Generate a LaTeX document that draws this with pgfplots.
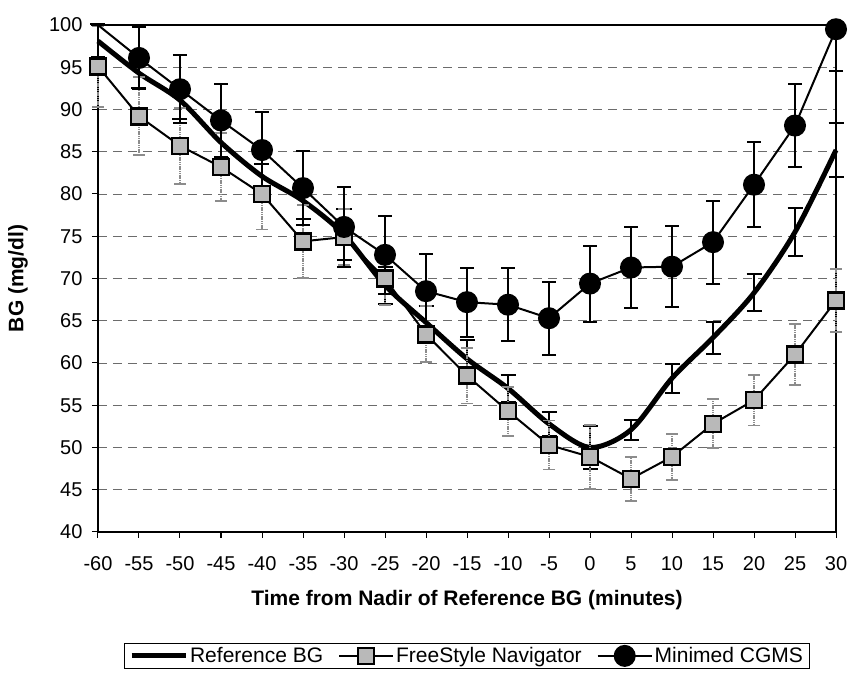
\documentclass[border=0pt]{standalone}
\usepackage{fontspec}
\setmainfont{Liberation Sans}
\usepackage{pgfplots}
\pgfplotsset{compat=1.18}
\usepackage{pgfplotstable}

% time, reference BG, FreeStyle Navigator, Minimed CGMS (mean and error)
\pgfplotstableread{
x    ref   referr fs    fserr mm    mmlo mmhi
-60  98.1  2.0    95.1  4.8   100.0 3.8  0.0
-55  94.3  1.7    89.2  4.6   96.1  3.7  3.7
-50  91.1  2.2    85.7  4.5   92.4  4.0  4.0
-45  86.1  1.8    83.2  4.0   88.7  4.3  4.3
-40  82.1  1.4    80.0  4.2   85.2  4.5  4.5
-35  79.2  2.2    74.4  4.3   80.7  4.4  4.4
-30  75.2  3.0    74.9  3.3   76.1  4.7  4.7
-25  69.2  2.2    70.0  3.1   72.8  4.6  4.6
-20  64.8  2.0    63.4  3.3   68.5  4.4  4.4
-15  60.5  2.2    58.5  3.3   67.2  4.1  4.1
-10  57.0  1.6    54.3  2.9   66.9  4.3  4.3
-5   52.8  1.4    50.3  2.9   65.3  4.3  4.3
0    50.0  2.6    48.9  3.8   69.4  4.5  4.5
5    52.1  1.2    46.3  2.6   71.3  4.8  4.8
10   58.2  1.7    48.9  2.7   71.4  4.8  4.8
15   63.0  1.9    52.8  2.9   74.3  4.9  4.9
20   68.3  2.2    55.6  3.0   81.1  5.0  5.0
25   75.5  2.8    61.0  3.6   88.1  4.9  4.9
30   85.2  3.2    67.4  3.7   99.5  5.0  0.5
}\data

\definecolor{sqfill}{RGB}{185,185,185}
\definecolor{fserr}{RGB}{140,140,140}

\begin{document}
\begin{tikzpicture}
\begin{axis}[
  name=ax, at={(0,0)}, anchor=south west,
  scale only axis, width=738pt, height=507pt,
  xmin=-60, xmax=30, ymin=40, ymax=100,
  xtick={-60,-55,...,30}, ytick={40,45,...,100},
  xtick pos=bottom, ytick pos=left,
  tick align=outside, major tick length=6pt,
  tick style={black, line width=1pt},
  axis line style={line width=2pt},
  clip=false,
  ymajorgrids,
  grid style={gray!85!black, line width=0.8pt, dash pattern=on 9pt off 6pt},
  tick label style={font=\fontsize{20}{24}\selectfont},
  xticklabel style={yshift=-15pt},
  yticklabel style={xshift=-6pt},
  /pgf/number format/assume math mode=true,
  xlabel={Time from Nadir of Reference BG (minutes)},
  ylabel={BG (mg/dl)},
  xlabel style={at={(axis description cs:0.5,-0.134)}, anchor=center,
    font=\bfseries\fontsize{21}{25}\selectfont},
  ylabel style={at={(axis description cs:-0.1084,0.5)}, anchor=center, rotate=0,
    font=\bfseries\fontsize{21}{25}\selectfont},
  legend columns=3,
  legend style={at={(0.5,-0.219)}, anchor=north, draw=black, line width=1pt,
    font=\fontsize{21}{25}\selectfont, inner xsep=5pt, inner ysep=2pt,
    /tikz/every even column/.append style={column sep=13pt}},
  legend cell align=left,
  legend image code/.code={\draw[mark repeat=2, mark phase=2, #1]
    plot coordinates {(0pt,0pt) (27pt,0pt) (54pt,0pt)};},
]
\addplot[black, line width=5pt, smooth, no markers,
  error bars/.cd, y dir=both, y explicit,
  error bar style={black, line width=2pt, solid},
  error mark options={rotate=90, mark size=7.5pt, line width=2pt}]
  table[x=x, y=ref, y error=referr] {\data};
\addlegendentry{Reference BG}

\addplot[black, line width=2pt, mark=square*,
  mark options={fill=sqfill, draw=black, line width=2.5pt, mark size=8pt},
  error bars/.cd, y dir=both, y explicit,
  error bar style={fserr, line width=1.8pt, dash pattern=on 1.2pt off 0.6pt},
  error mark options={rotate=90, mark size=6pt, line width=1.8pt, fserr}]
  table[x=x, y=fs, y error=fserr] {\data};
\addlegendentry{FreeStyle Navigator}

% first Minimed segment starts at the top edge, without a marker
\addplot[black, line width=2pt, no markers, forget plot,
  skip coords between index={2}{19},
  error bars/.cd, y dir=both, y explicit,
  error bar style={black, line width=2pt},
  error mark options={rotate=90, mark size=7pt, line width=2pt}]
  table[x=x, y=mm, y error plus=mmhi, y error minus=mmlo] {\data};

\addplot[black, line width=2pt, mark=*,
  skip coords between index={0}{1},
  mark options={fill=black, mark size=10pt},
  error bars/.cd, y dir=both, y explicit,
  error bar style={black, line width=2pt},
  error mark options={rotate=90, mark size=7pt, line width=2pt}]
  table[x=x, y=mm, y error plus=mmhi, y error minus=mmlo] {\data};
\addlegendentry{Minimed CGMS}
\end{axis}
\pgfresetboundingbox
\path (ax.south west) ++(-98pt,-144pt) rectangle ++(848pt,676pt);
\end{tikzpicture}
\end{document}
